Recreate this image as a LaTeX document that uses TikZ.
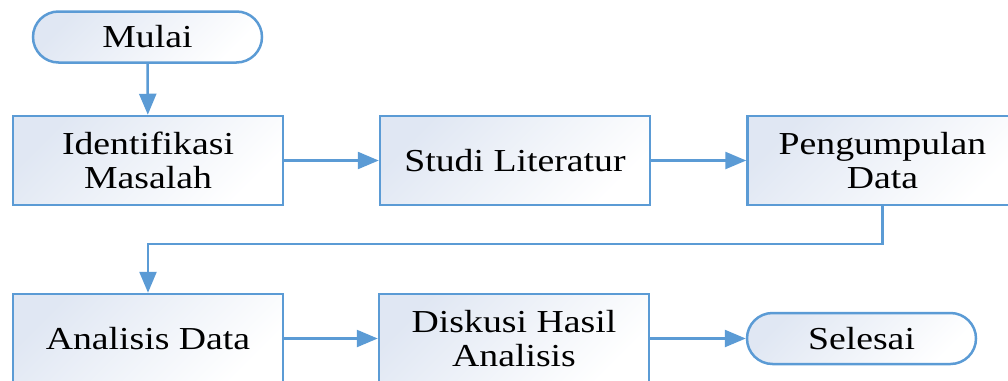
\documentclass[tikz,border=0pt]{standalone}
\usepackage{fontspec}
\setmainfont{Liberation Serif}[FakeStretch=1.18]
\usetikzlibrary{arrows.meta,shapes.misc}
\definecolor{lineblue}{HTML}{5B9BD5}
\definecolor{fillblue}{HTML}{E0E7F3}
\tikzset{
  flowbox/.style={draw=lineblue, line width=2.5pt, minimum width=270pt, minimum height=89pt,
    align=center, inner sep=0pt, shading=axis, left color=fillblue, right color=white, shading angle=45,
    font=\fontsize{32}{34}\selectfont},
  term/.style={draw=lineblue, line width=2.5pt, rounded rectangle, minimum width=229pt, minimum height=51pt,
    inner sep=0pt, shading=axis, left color=fillblue, right color=white, shading angle=45,
    font=\fontsize{32}{34}\selectfont},
  conn/.style={draw=lineblue, line width=2.5pt, -{Triangle[length=21pt,width=17pt]}}
}
\begin{document}
\begin{tikzpicture}[x=1pt,y=-1pt]
\useasboundingbox (0,0) rectangle (1008,380);
\node[term] (mulai) at (147.5,37) {Mulai};
\node[flowbox] (ident) at (148,160.5) {Identifikasi\\Masalah};
\node[flowbox] (studi) at (515,160.5) {Studi Literatur};
\node[flowbox] (pengum) at (882.5,160.5) {Pengumpulan\\Data};
\node[flowbox] (analisis) at (148,338.5) {Analisis Data};
\node[flowbox] (diskusi) at (514,338.5) {Diskusi Hasil\\Analisis};
\node[term] (selesai) at (861.5,338.5) {Selesai};
\coordinate (bend) at (882.5,244);
\draw[conn] (mulai) -- (ident);
\draw[conn] (ident) -- (studi);
\draw[conn] (studi) -- (pengum);
\draw[conn] (pengum.south) -- (bend) -| (analisis.north);
\draw[conn] (analisis) -- (diskusi);
\draw[conn] (diskusi) -- (selesai);
\end{tikzpicture}
\end{document}
